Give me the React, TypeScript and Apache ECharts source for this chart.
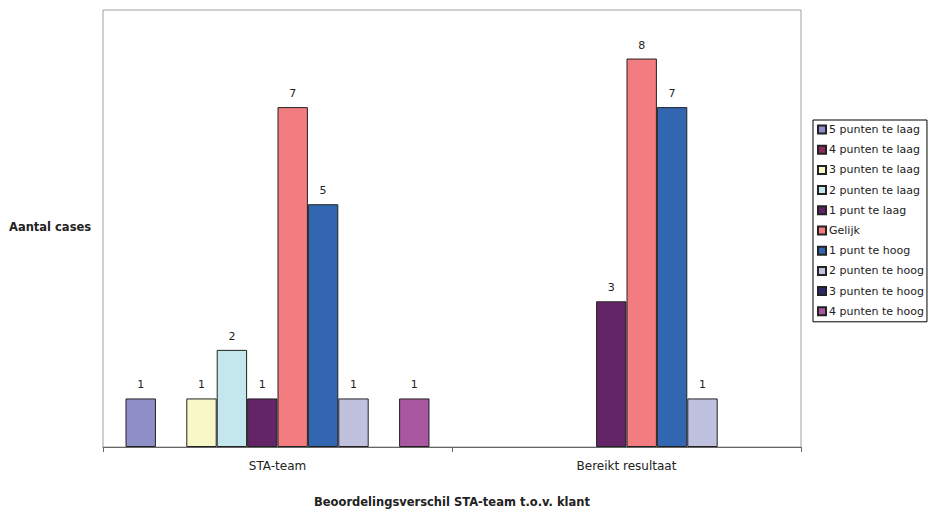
import React, { useEffect, useRef } from "react";
import * as echarts from "echarts";

const categories = ["STA-team", "Bereikt resultaat"];
const seriesNames = [
  "5 punten te laag",
  "4 punten te laag",
  "3 punten te laag",
  "2 punten te laag",
  "1 punt te laag",
  "Gelijk",
  "1 punt te hoog",
  "2 punten te hoog",
  "3 punten te hoog",
  "4 punten te hoog",
];
const staTeam = [1, 0, 1, 2, 1, 7, 5, 1, 0, 1];
const bereiktResultaat = [0, 0, 0, 0, 3, 8, 7, 1, 0, 0];
const colors = [
  "#8E8EC8",
  "#8B2A5F",
  "#F8F7C8",
  "#C4E7EE",
  "#632468",
  "#F27C80",
  "#3366B1",
  "#C0C0DF",
  "#2B2A6E",
  "#A957A0",
];
const yAxisTitle = "Aantal cases";
const xAxisTitle = "Beoordelingsverschil STA-team t.o.v. klant";

export default function App() {
  const ref = useRef<HTMLDivElement>(null);
  useEffect(() => {
    if (!ref.current) return;
    const chart = echarts.init(ref.current, undefined, { renderer: "svg" });
    const font = "'DejaVu Sans', sans-serif";
    chart.setOption({
      animation: false,
      textStyle: { fontFamily: font },
      grid: {
        left: 103,
        top: 10,
        width: 698,
        height: 437,
        show: true,
        borderColor: "#A0A0A0",
        borderWidth: 1,
      },
      legend: {
        orient: "vertical",
        left: 813,
        top: 120,
        width: 115,
        padding: [4, 3, 5, 4],
        itemWidth: 8,
        itemHeight: 8,
        itemGap: 9.2,
        borderColor: "#000",
        borderWidth: 1,
        textStyle: { fontSize: 11, color: "#222", fontFamily: font, padding: [0, 0, 0, -2] },
        data: seriesNames.map((n) => ({ name: n, icon: "rect" })),
      },
      graphic: [
        {
          type: "text",
          x: 9,
          y: 221,
          style: { text: yAxisTitle, font: "bold 11.5px " + font, fill: "#222" },
        },
        {
          type: "text",
          x: 452,
          y: 496,
          style: { text: xAxisTitle, font: "bold 11.5px " + font, fill: "#222", textAlign: "center" },
        },
      ],
      xAxis: {
        type: "category",
        data: categories,
        axisLine: { lineStyle: { color: "#666", width: 1 } },
        axisTick: { show: true, length: 5, lineStyle: { color: "#666" } },
        axisLabel: { fontSize: 12, color: "#222", margin: 13 },
      },
      yAxis: {
        type: "value",
        min: 0,
        max: 9,
        interval: 1,
        axisLine: { show: false },
        axisTick: { show: false },
        axisLabel: { show: false },
        splitLine: { show: false },
      },
      series: seriesNames.map((name, i) => ({
        name,
        type: "bar",
        barGap: "0%",
        barCategoryGap: "12.9%",
        data: [staTeam[i], bereiktResultaat[i]].map((v) => (v ? v : null)),
        itemStyle: { color: colors[i], borderColor: "#222", borderWidth: 1 },
        label: {
          show: true,
          position: "top",
          distance: 8,
          fontSize: 11,
          color: "#222",
          formatter: (p: any) => (p.value ? String(p.value) : ""),
        },
      })),
    });
    return () => chart.dispose();
  }, []);
  return <div ref={ref} style={{ width: 931, height: 512, position: "absolute", left: 0, top: 0 }} />;
}
